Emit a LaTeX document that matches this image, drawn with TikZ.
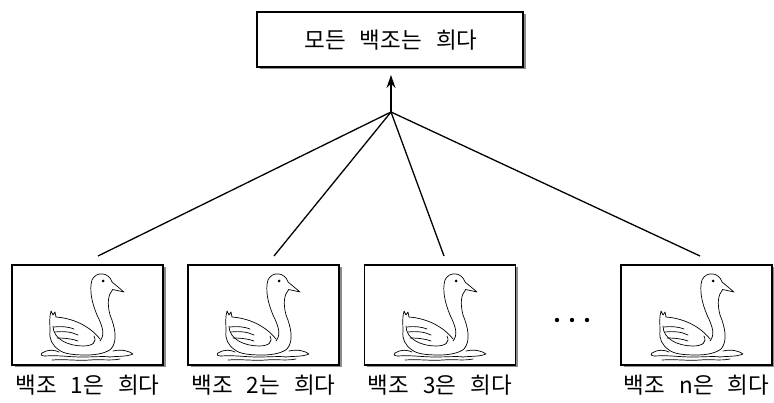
\documentclass[tikz,border=0pt]{standalone}
\usepackage{fontspec}
\newfontfamily\kr[WordSpace=2.8]{Noto Sans CJK KR}
\usetikzlibrary{arrows.meta,shadows}
\tikzset{
  card/.style={draw=black, line width=1.1pt, fill=white, inner sep=0pt,
    drop shadow={shadow xshift=2.5pt, shadow yshift=-2.5pt, fill=black!45, opacity=1}},
  swanbox/.style={card, minimum width=151pt, minimum height=100pt},
  lbl/.style={font=\kr\fontsize{22.5}{23}\selectfont, inner sep=0pt},
  link/.style={line width=1.3pt},
  swanline/.style={line width=0.7pt, line cap=round, line join=round},
  swan/.pic={
    \begin{scope}[swanline]
      % head and back of neck
      \draw (100.7,24.5) -- (112,27) -- (100,17)
        .. controls (97,7) and (84,6) .. (80,15)
        .. controls (77,25) and (80,38) .. (85,50)
        .. controls (91,62) and (93,70) .. (88,76);
      % front of neck, chest, belly, tail
      \draw (100.7,24.5) .. controls (96,30) and (95,38) .. (98,50)
        .. controls (103,62) and (106,76) .. (99,84)
        .. controls (94,88) and (85,90) .. (74,90)
        .. controls (62,90) and (52,89) .. (47,85)
        .. controls (40,80) and (37,74) .. (38,66)
        .. controls (38,59) and (37,53) .. (39,46)
        -- (41,50) -- (43,47) -- (44,52);
      % back / top of wing
      \draw (44,52) .. controls (58,53) and (76,59) .. (88,74);
      % wing lower edge
      \draw (41,61) .. controls (41,74) and (56,81) .. (71,81)
        .. controls (81,81) and (85,77) .. (82,71);
      % feathers
      \draw (42,62) .. controls (50,61) and (57,62) .. (62,64);
      \draw (43,67) .. controls (52,66) and (60,67) .. (66,70);
      \draw (45,73) .. controls (53,73) and (61,74) .. (66,76);
      % eye
      \fill (91,16) circle (1.5pt);
      % water
      \draw (30,88) .. controls (36,84) and (43,85) .. (47,87);
      \draw (101,86) .. controls (110,84) and (117,86) .. (121,89)
        .. controls (114,92) and (105,91) .. (98,92);
      \draw (33,91) .. controls (46,90) and (57,92) .. (70,92)
        .. controls (82,92) and (92,91) .. (98,92);
      \draw (40,95) .. controls (54,94) and (66,96) .. (78,95)
        .. controls (89,94) and (98,96) .. (108,94);
      \draw (30,88) .. controls (28,90) and (30,91) .. (33,91);
    \end{scope}
  }
}
\begin{document}
\begin{tikzpicture}[x=1pt, y=-1pt]
  \useasboundingbox (0,0) rectangle (774,403);

  % top box
  \node[card, minimum width=266pt, minimum height=55pt] (top) at (390,39.5) {};
  \node[lbl] (toptxt) at (391,40) {모든 백조는 희다};

  % swan boxes
  \node[swanbox] (b1) at (87.5,315) {};
  \node[swanbox] (b2) at (263.5,315) {};
  \node[swanbox] (b3) at (440,315) {};
  \node[swanbox] (bn) at (696.5,315) {};

  \pic at (12,265) {swan};
  \pic at (188,265) {swan};
  \pic at (365,265) {swan};
  \pic at (622,265) {swan};

  % labels
  \node[lbl] (l1) at (b1.south |- 0,385) {백조 1은 희다};
  \node[lbl] (l2) at (b2.south |- 0,385) {백조 2는 희다};
  \node[lbl] (l3) at (b3.south |- 0,385) {백조 3은 희다};
  \node[lbl] (ln) at (bn.south |- 0,385) {백조 n은 희다};

  % dots
  \fill (557,320) circle (2.2pt);
  \fill (572,320) circle (2.2pt);
  \fill (587,320) circle (2.2pt);

  % connectors
  \coordinate (hub) at (391,112);
  \coordinate (tip) at (391,75);
  \coordinate (e1) at (98,256);
  \coordinate (e2) at (274,256);
  \coordinate (e3) at (444,256);
  \coordinate (en) at (700,256);
  \draw[link] (hub) -- (e1);
  \draw[link] (hub) -- (e2);
  \draw[link] (hub) -- (e3);
  \draw[link] (hub) -- (en);
  \draw[link, -{Stealth[length=13pt, width=9pt]}] (hub) -- (tip);
\end{tikzpicture}
\end{document}
